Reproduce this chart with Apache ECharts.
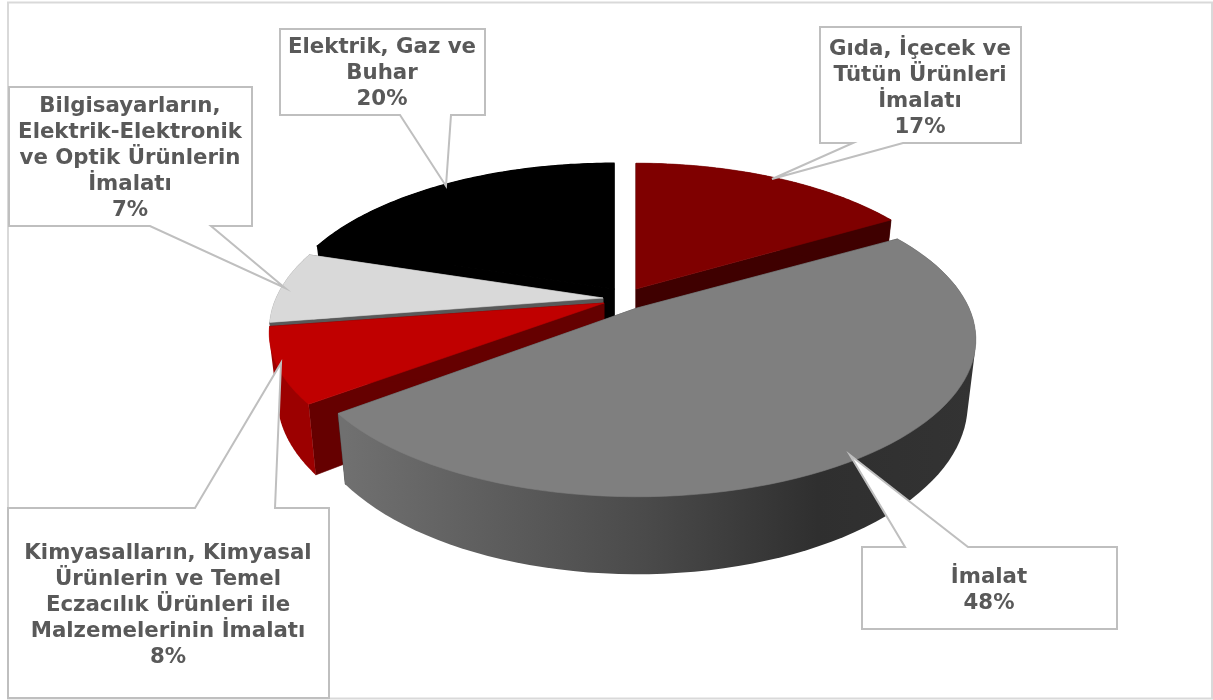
<!DOCTYPE html>
<html><head><meta charset="utf-8">
<style>html,body{margin:0;padding:0;background:#fff}#c{width:1213px;height:700px}</style>
<script src="https://cdn.jsdelivr.net/npm/echarts@6/dist/echarts.min.js"></script>
</head><body><div id="c"></div>
<script>
// Data, clockwise from 12 o'clock
const categories = [
  'Gıda, İçecek ve\nTütün Ürünleri\nİmalatı',
  'İmalat',
  'Kimyasalların, Kimyasal\nÜrünlerin ve Temel\nEczacılık Ürünleri ile\nMalzemelerinin İmalatı',
  'Bilgisayarların,\nElektrik-Elektronik\nve Optik Ürünlerin\nİmalatı',
  'Elektrik, Gaz ve\nBuhar'
];
const values = [16.6, 47.9, 8, 7.4, 20.1];

// Styles and layout (not data)
const topColors  = ['#7f0000', '#7f7f7f', '#c00000', '#d9d9d9', '#000000'];
const wallColors = ['#3f0000', '#3f3f3f', '#650000', '#595959', '#000000'];
const apexes = [[636,289],[637,308],[604,303],[603,298],[614,289]];
const radiusX = [325, 332, 328, 327, 330];
const radiusY = [151, 151, 145, 151, 151];
const persp = 0.2, depth = 62, shrink = 0.976;
const drawOrder = [4, 3, 2, 0, 1];
const callouts = [
  {box:[820,27,1021,143], side:'b', w:[853,903], tip:[772,179], tx:920, ty:88},
  {box:[862,547,1117,629], side:'t', w:[905,968], tip:[850,455], tx:989, ty:590},
  {box:[8,508,329,698], side:'t', w:[195,275], tip:[281,363], tx:168, ty:605},
  {box:[9,87,252,226], side:'b', w:[150,211], tip:[285,288], tx:130, ty:158},
  {box:[280,29,485,115], side:'b', w:[400,451], tip:[446,186], tx:382, ty:73}
];
const total = values.reduce((a,b)=>a+b,0);
const angleOf = v => echarts.number.linearMap(v,[0,total],[0,Math.PI*2],true);
let cum = 0;
const bounds = values.map(v=>{const s=cum; cum+=v; return [s,cum];});

function project(i,t){
  const w = 1 + persp*Math.cos(t);
  return [apexes[i][0] + radiusX[i]*Math.sin(t)/w, apexes[i][1] - radiusY[i]*Math.cos(t)/w, w];
}
function lower(i,p){
  return [apexes[i][0] + (p[0]-apexes[i][0])*shrink, p[1] + depth/p[2]];
}
function hull(pts){
  const s = pts.slice().sort((a,b)=>a[0]-b[0]||a[1]-b[1]);
  const cross=(o,a,b)=>(a[0]-o[0])*(b[1]-o[1])-(a[1]-o[1])*(b[0]-o[0]);
  const half = list=>{
    const h=[];
    for(const q of list){
      while(h.length>1 && cross(h[h.length-2],h[h.length-1],q)<=0) h.pop();
      h.push(q);
    }
    h.pop();
    return h;
  };
  return half(s).concat(half(s.slice().reverse()));
}
function poly(points, fill, strokeWidth){
  return {type:'polygon', shape:{points}, style: strokeWidth ? {fill, stroke:fill, lineWidth:strokeWidth} : {fill}};
}
function renderSlice(params, api){
  const i = api.value(0);
  const a = angleOf(api.value(1)), b = angleOf(api.value(2));
  const arc = [];
  const n = 80;
  for(let k=0;k<=n;k++) arc.push(project(i, a+(b-a)*k/n));
  const bottom = arc.map(p=>lower(i,p));
  const apex = apexes[i], apexLow = [apex[0], apex[1]+depth];
  const p = q=>[q[0],q[1]];
  const sideFill = i===1
    ? new echarts.graphic.LinearGradient(345,0,975,0,[
        {offset:0,color:'#707070'},{offset:0.48,color:'#4a4a4a'},{offset:0.75,color:'#2f2f2f'},{offset:1,color:'#333333'}],true)
    : (i===2 ? '#9c0000' : wallColors[i]);
  const sw = i===4 ? 1.2 : 0.6;
  const children = [
    poly([apex, apexLow, bottom[0], p(arc[0])], wallColors[i], sw),
    poly([apex, apexLow, bottom[n], p(arc[n])], wallColors[i], sw),
    poly(hull(arc.map(p).concat(bottom)), sideFill, 0),
    poly([apex].concat(arc.map(p)), topColors[i], sw)
  ];
  return {type:'group', children};
}
function renderCallout(params, api){
  const i = api.value(0), c = callouts[i], b = c.box;
  const y = c.side==='t' ? b[1] : b[3];
  const wedge = [[c.w[0],y],c.tip,[c.w[1],y]];
  const pts = c.side==='t'
    ? [[b[0],b[1]]].concat(wedge,[[b[2],b[1]],[b[2],b[3]],[b[0],b[3]]])
    : [[b[0],b[1]],[b[2],b[1]],[b[2],b[3]]].concat(wedge.slice().reverse(),[[b[0],b[3]]]);
  return {type:'group', children:[
    {type:'polygon',shape:{points:pts},style:{fill:'#fff',stroke:'#bfbfbf',lineWidth:2}},
    {type:'text', style:{
      text: categories[i]+'\n'+Math.round(values[i])+'%',
      x:c.tx, y:c.ty, align:'center', verticalAlign:'middle',
      font:'bold 21.3px "DejaVu Sans"', lineHeight:26, fill:'#595959'}}
  ]};
}
const chart = echarts.init(document.getElementById('c'),null,{renderer:'canvas',width:1213,height:700});
chart.setOption({
  animation:false,
  backgroundColor:'#fff',
  graphic:[{type:'rect',z:-1,shape:{x:8,y:2.5,width:1204,height:696},style:{fill:'#fff',stroke:'#d9d9d9',lineWidth:2}}],
  series:[
    {type:'custom',coordinateSystem:'none',z:2,silent:true,renderItem:renderSlice,
     data:drawOrder.map(i=>[i,bounds[i][0],bounds[i][1]])},
    {type:'custom',coordinateSystem:'none',z:3,silent:true,renderItem:renderCallout,
     data:categories.map((c,i)=>[i])}
  ]
});
</script></body></html>
